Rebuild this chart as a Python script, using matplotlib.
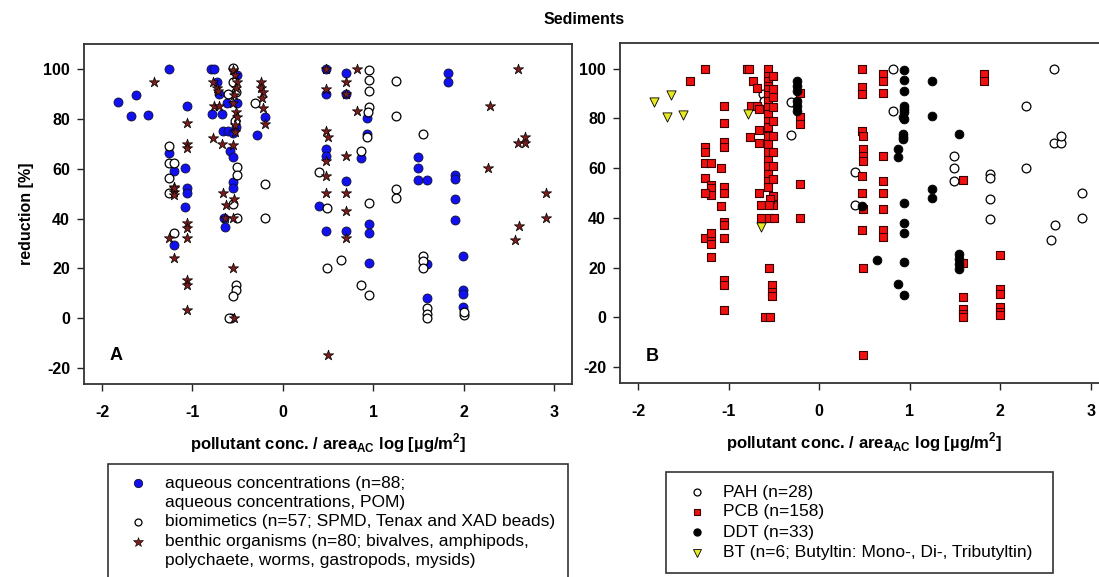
import matplotlib
matplotlib.use("Agg")
import matplotlib.pyplot as plt
from matplotlib.lines import Line2D
from matplotlib.patches import Rectangle

plt.rcParams['font.family'] = ['Liberation Sans', 'DejaVu Sans']
plt.rcParams['mathtext.fontset'] = 'custom'
plt.rcParams['mathtext.rm'] = 'Liberation Sans:bold'
plt.rcParams['axes.unicode_minus'] = False

# ---------------- data: panel A (sampling method) ----------------
aq_x = [-1.82, -1.63, -1.68, -1.49, -1.26, -1.06, -1.26, -1.20, -1.08, -1.06,
        -1.06, -1.08, -1.20, -0.79, -0.76, -0.73, -0.71, -0.78, -0.67, -0.62,
        -0.66, -0.61, -0.55, -0.51, -0.51, -0.52, -0.58, -0.55, -0.55, -0.55,
        -0.64, -0.65, -0.29, -0.20, -0.57,
        0.475, 0.475, 0.70, 0.70, 0.93, 0.93, 0.48, 0.475, 0.86, 0.70,
        0.40, 0.475, 0.70, 0.95, 0.95, 0.95, 1.50, 1.50, 1.50, 1.59,
        1.83, 1.83, 1.90, 1.90, 1.90, 1.90, 1.59, 1.59, 1.99, 1.99, 1.99, 1.99]
aq_y = [86.7, 89.7, 81.2, 81.6, 100, 85.3, 66.5, 59.2, 60.2, 52.2,
        50.2, 44.6, 29.4, 100, 100, 95, 90, 82, 82, 86.3,
        75.3, 75.2, 74.5, 97.7, 86.3, 77, 67, 64.9, 54.9, 52.5,
        36.5, 40.2, 73.5, 80.7, 0,
        100, 90, 98.4, 90, 80.3, 73.9, 67.9, 65.2, 64.5, 55.1,
        45.1, 35.2, 35.2, 37.9, 34.4, 22.3, 64.9, 60.2, 55.5, 55.5,
        98.4, 95, 57.6, 56, 47.8, 39.5, 21.8, 8.0, 25, 11.4, 9.5, 4.3]

bio_x = [-1.26, -1.26, -1.20, -1.26, -1.26, -1.20, -0.55, -0.55, -0.52, -0.61,
         -0.53, -0.51, -0.51, -0.55, -0.51, -0.52, -0.52, -0.55, -0.59, -0.31,
         -0.20, -0.20,
         0.95, 0.95, 0.95, 0.95, 0.94, 0.93, 1.25, 1.25, 1.55, 0.86,
         0.40, 0.485, 0.95, 1.25, 1.25, 0.485, 0.64, 0.86, 0.95, 1.55,
         1.55, 1.55, 1.59, 1.59, 1.59, 2.01, 2.01]
bio_y = [69.2, 62.2, 62.2, 56.2, 50.2, 34.4, 100.4, 95, 91, 90,
         79.3, 60.9, 57.6, 45.9, 40.2, 13.2, 11.2, 9.0, 0, 86.6,
         53.9, 40.2,
         99.7, 95.7, 91.3, 85, 83, 72.7, 95.4, 81.2, 73.9, 67.2,
         58.6, 44.2, 46.2, 51.8, 48.2, 20.1, 23.4, 13.4, 9.4, 25,
         22.8, 20.1, 4, 1.7, 0, 1.3, 2.5]

ben_x = [-1.42, -1.06, -1.06, -1.06, -1.20, -1.20, -1.20, -1.20, -1.06, -1.06,
         -1.06, -1.26, -1.20, -1.06, -1.06, -1.06,
         -0.77, -0.67, -0.55, -0.77, -0.73, -0.72, -0.76, -0.71, -0.55, -0.53,
         -0.51, -0.52, -0.54, -0.55, -0.52, -0.51, -0.53, -0.53, -0.66, -0.63,
         -0.54, -0.55, -0.55, -0.54,
         -0.24, -0.24, -0.22, -0.23, -0.22, -0.20, -0.64,
         0.82, 0.475, 0.70, 0.82, 0.475, 0.50, 0.475, 0.70, 0.475, 0.475,
         0.70, 0.70, 0.70, 0.50, 0.475, 0.70, 2.60, 2.29, 2.60, 2.68,
         2.68, 2.27, 2.91, 2.91, 2.61, 2.57]
ben_y = [95, 78.3, 70, 68.3, 52.9, 50.8, 49.5, 52.2, 38.2, 36.1,
         32.1, 32.1, 24.1, 15.4, 13.4, 3.1,
         72.3, 70, 69.6, 95, 92.5, 91.5, 85.2, 85.2, 99.7, 97.7,
         95, 92.4, 89.7, 86.3, 83, 81, 77.6, 75, 50.2, 45.5,
         47.8, 40.2, 20.1, 0,
         95, 92.4, 90.8, 88.4, 84.3, 77.9, 40.2,
         100, 92, 95, 83.4, 75.3, 72.9, 63.3, 65.2, 57.2, 50.2,
         50.2, 43.1, 32.1, -14.7, 100, 90, 100, 85.3, 70.3, 70.3,
         72.9, 60.2, 50.2, 40.2, 37, 31.2]

# ---------------- data: panel B (pollutant class) ----------------
pah_x = [-0.62, -0.61, -0.31, -0.31, 0.81, 0.81, 0.39, 0.39, 1.49, 1.49,
         1.49, 1.89, 1.89, 1.89, 1.89, 2.28, 2.28, 2.59, 2.59, 2.67,
         2.67, 2.905, 2.905, 2.60, 2.56]
pah_y = [89.8, 87, 86.5, 73.4, 99.9, 83.1, 58.4, 45, 64.7, 60.1,
         55, 57.7, 56.1, 47.4, 39.4, 85.1, 60.1, 99.9, 70, 70,
         73.1, 50.1, 40, 37.2, 31.2]

pcb_x = [-1.26, -1.43, -1.05, -1.05, -1.05, -1.05, -1.26, -1.26, -1.26, -1.20,
         -1.08, -1.26, -1.20, -1.20, -1.20, -1.26, -1.05, -1.05, -1.08, -1.05,
         -1.05, -1.05, -1.26, -1.20, -1.20, -1.20, -1.20, -1.05, -1.05, -1.05,
         -0.80, -0.77, -0.73, -0.69, -0.75, -0.69, -0.67, -0.66, -0.76, -0.66,
         -0.565, -0.565, -0.565, -0.565, -0.565, -0.565, -0.565, -0.565, -0.565, -0.565,
         -0.565, -0.565, -0.565, -0.565, -0.565, -0.565, -0.565, -0.565, -0.565,
         -0.51, -0.51, -0.51, -0.51, -0.51, -0.51, -0.51, -0.51, -0.51, -0.51, -0.51,
         -0.66, -0.64, -0.54, -0.55, -0.64, -0.56, -0.50, -0.56, -0.52, -0.52,
         -0.52, -0.60, -0.54,
         -0.215, -0.215, -0.215, -0.215, -0.215,
         0.47, 0.47, 0.47, 0.47, 0.47, 0.47, 0.47,
         0.48, 0.48, 0.48, 0.48, 0.48, 0.48, 0.48,
         0.70, 0.70, 0.70, 0.70, 0.70, 0.70, 0.70, 0.70, 0.70,
         1.59, 1.59, 1.59, 1.59, 1.59, 1.59,
         1.82, 1.82,
         2.0, 2.0, 2.0, 2.0, 2.0, 2.0]
pcb_y = [99.9, 95.2, 85.1, 78, 70.4, 68.4, 68.7, 66.4, 62, 62,
         60, 56, 53.4, 52, 49.4, 50, 52.4, 50, 44.6, 38.3,
         37, 32, 32, 32, 34, 29.4, 24.2, 14.9, 12.9, 3.1,
         100, 100, 95.2, 92.1, 85.1, 85.1, 83.8, 75.5, 72.4, 70.2,
         99.9, 97.2, 95.2, 93.2, 91.8, 89.4, 87.1, 84.5, 81.8, 79.1,
         76.4, 73.1, 69.8, 66.4, 63.1, 61, 57.7, 55, 52.3,
         97.2, 91.8, 88.7, 84.5, 79.1, 73.1, 66.4, 61, 55.6, 49, 45,
         50, 45, 47.7, 45, 40, 40, 40, 20, 13.1, 10.2,
         8.8, 0, 0,
         90.2, 80.4, 77.8, 53.7, 40,
         99.9, 92.5, 89.8, 75.1, 57, 50, 35,
         73.1, 67.8, 65, 63, 43.6, 19.8, -15,
         97.9, 95.2, 90.1, 65, 55, 50, 43.6, 35, 32.2,
         55.3, 21.8, 8.2, 3.5, 1.5, 0,
         97.9, 95.2,
         24.9, 11.5, 9.5, 4.1, 2.1, 0.8]

ddt_x = [-0.245, -0.245, -0.245, -0.245, -0.245, -0.245,
         0.94, 0.94, 0.94, 0.94, 0.94, 0.94, 0.94, 0.94, 0.94, 0.94, 0.94, 0.94,
         0.93, 0.92, 0.92, 0.92, 0.87, 0.87, 0.87, 0.64, 0.47,
         1.245, 1.245, 1.245, 1.245, 1.54, 1.54, 1.54, 1.54, 1.54]
ddt_y = [95.2, 93.2, 91.2, 87.2, 85.1, 83.1,
         99.6, 95.6, 90.9, 85.1, 83.8, 82.4, 79.8, 45.9, 37.9, 33.9, 22.2, 9.1,
         80.7, 73.8, 72.4, 71.8, 67.8, 64.4, 13.3, 23.2, 44.6,
         95.2, 81.1, 51.7, 48.1, 73.8, 25.6, 23.6, 21.6, 19.6]

bt_x = [-1.83, -1.64, -1.68, -1.50, -0.79, -0.64]
bt_y = [86.5, 89.6, 80.7, 81.5, 81.8, 36.3]

x_ticks = [-2, -1, 0, 1, 2, 3]
y_ticks = [-20, 0, 20, 40, 60, 80, 100]

legend_a = [["aqueous concentrations (n=88;", "aqueous concentrations, POM)"],
            ["biomimetics (n=57; SPMD, Tenax and XAD beads)"],
            ["benthic organisms (n=80; bivalves, amphipods,",
             "polychaete, worms, gastropods, mysids)"]]
legend_b = ["PAH (n=28)", "PCB (n=158)", "DDT (n=33)",
            "BT (n=6; Butyltin: Mono-, Di-, Tributyltin)"]

# ---------------- figure ----------------
W, H = 1099, 577
fig = plt.figure(figsize=(W / 100, H / 100), dpi=100)


def fx(px):
    return px / W


def fy(py):
    return 1 - py / H


def make_axes(left, right, top, bottom):
    ax = fig.add_axes([fx(left), fy(bottom), (right - left) / W, (bottom - top) / H])
    ax.set_xlim(-2.2, 3.2)
    ax.set_ylim(-26.5, 110.2)
    ax.set_xticks(x_ticks)
    ax.set_yticks(y_ticks)
    ax.tick_params(direction='out', length=5, width=1.0, labelsize=11.5, color='#222222')
    ax.tick_params(axis='x', pad=10)
    ax.tick_params(axis='y', pad=5)
    for lab in ax.get_xticklabels() + ax.get_yticklabels():
        lab.set_fontweight('bold')
    for sp in ax.spines.values():
        sp.set_linewidth(1.3)
        sp.set_color('#333333')
    ax.set_xlabel(r'pollutant conc. / area$_\mathrm{AC}$ log [µg/m$^\mathrm{2}$]',
                  fontsize=12, fontweight='bold', labelpad=8)
    return ax


axA = make_axes(84, 572, 44, 384)
axB = make_axes(620, 1109, 43.3, 383.3)
axA.set_ylabel('reduction [%]', fontsize=11.5, fontweight='bold', labelpad=7)

# panel A
axA.scatter(aq_x, aq_y, s=42, marker='o', facecolor='#1010f0', edgecolor='#101030',
            linewidth=0.6, zorder=3)
axA.scatter(bio_x, bio_y, s=40, marker='o', facecolor='white', edgecolor='black',
            linewidth=0.9, zorder=4)
axA.scatter(ben_x, ben_y, s=60, marker='*', facecolor='#7a1c1c', edgecolor='black',
            linewidth=0.5, zorder=5)
axA.text(0.065, 0.085, 'A', transform=axA.transAxes, fontsize=13, fontweight='bold',
         ha='center', va='center')

# panel B
axB.scatter(pah_x, pah_y, s=40, marker='o', facecolor='white', edgecolor='black',
            linewidth=0.9, zorder=3)
axB.scatter(pcb_x, pcb_y, s=36, marker='s', facecolor='#f01010', edgecolor='#3a0000',
            linewidth=0.8, zorder=4)
axB.scatter(ddt_x, ddt_y, s=40, marker='o', facecolor='black', edgecolor='black',
            linewidth=0.6, zorder=5)
axB.scatter(bt_x, bt_y, s=44, marker='v', facecolor='#e8e820', edgecolor='black',
            linewidth=0.6, zorder=6)
axB.text(0.065, 0.08, 'B', transform=axB.transAxes, fontsize=13, fontweight='bold',
         ha='center', va='center')

fig.text(fx(584), fy(20), 'Sediments', fontsize=11.5, fontweight='bold',
         ha='center', va='center')

# ---------------- legends ----------------
fig.add_artist(Rectangle((fx(108), fy(595)), (568 - 108) / W, (595 - 464) / H,
                         transform=fig.transFigure, facecolor='white',
                         edgecolor='#333333', linewidth=1.2))
rows_a = [[483.3, 502.7], [521.7], [541.7, 560.5]]
styles_a = [dict(marker='o', markersize=6, markerfacecolor='#1010f0', markeredgecolor='#101030', markeredgewidth=0.6),
            dict(marker='o', markersize=5, markerfacecolor='white', markeredgecolor='black', markeredgewidth=0.9),
            dict(marker='*', markersize=7, markerfacecolor='#7a1c1c', markeredgecolor='black', markeredgewidth=0.4)]
for lines, ys, st in zip(legend_a, rows_a, styles_a):
    fig.add_artist(Line2D([fx(138.3)], [fy(ys[0])], transform=fig.transFigure, linestyle='none', **st))
    for line, ry in zip(lines, ys):
        fig.text(fx(165), fy(ry), line, fontsize=12.5, ha='left', va='center')

fig.add_artist(Rectangle((fx(666), fy(573.3)), (1053.3 - 666) / W, (573.3 - 472.3) / H,
                         transform=fig.transFigure, facecolor='white',
                         edgecolor='#333333', linewidth=1.2))
rows_b = [492.3, 511.7, 532.3, 552.7]
styles_b = [dict(marker='o', markersize=5, markerfacecolor='white', markeredgecolor='black', markeredgewidth=0.9),
            dict(marker='s', markersize=5, markerfacecolor='#f01010', markeredgecolor='#3a0000', markeredgewidth=0.8),
            dict(marker='o', markersize=5, markerfacecolor='black', markeredgecolor='black'),
            dict(marker='v', markersize=5.5, markerfacecolor='#e8e820', markeredgecolor='black', markeredgewidth=0.6)]
for label, ry, st in zip(legend_b, rows_b, styles_b):
    fig.add_artist(Line2D([fx(696.7)], [fy(ry)], transform=fig.transFigure, linestyle='none', **st))
    fig.text(fx(723.3), fy(ry), label, fontsize=12.5, ha='left', va='center')

fig.savefig('out.png', dpi=100)
